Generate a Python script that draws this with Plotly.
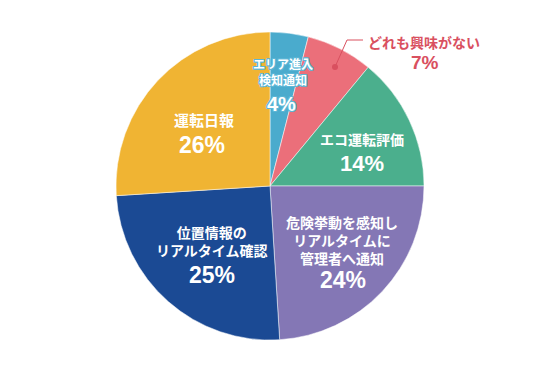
import plotly.graph_objects as go

labels = ["エリア進入<br>検知通知", "どれも興味がない", "エコ運転評価",
          "危険挙動を感知し<br>リアルタイムに<br>管理者へ通知",
          "位置情報の<br>リアルタイム確認", "運転日報"]
values = [4, 7, 14, 24, 25, 26]
colors = ["#4AABCD", "#EB6F7A", "#4BAF8D", "#8477B5", "#1B4A94", "#F0B433"]

W, H = 540, 375
OFF = 8  # page body margin offset
cx, cy, r = 270, 186, 154

def px(x):
    return (x - OFF) / W

def py(y):
    return 1 - (y - OFF) / H

fig = go.Figure(go.Pie(
    labels=labels, values=values, sort=False, direction="clockwise", rotation=0,
    marker=dict(colors=colors, line=dict(color="#FFFFFF", width=0.5)),
    textinfo="none", hoverinfo="label+percent", showlegend=False,
    domain=dict(x=[px(cx - r), px(cx + r)], y=[py(cy + r), py(cy - r)]),
))

FONT = "Noto Sans CJK JP, Noto Sans, sans-serif"
label_pos = [(283, 72), (424, 42), (362, 139), (342, 240), (212, 241), (204, 120)]
pct_pos = [(281, 104), (425, 62), (362, 163), (343, 280), (212, 275), (202, 145)]
label_size = [12, 14, 14, 14, 14, 15]
pct_size = [20, 19, 22, 23, 23, 23]

ann = []
for i, (lab, v) in enumerate(zip(labels, values)):
    col = "#D9505F" if i == 1 else "#FFFFFF"
    shadow = "none"
    if i == 0:
        s = "#5CB6D6"
        shadow = f"1px 1px 0 {s}, -1px -1px 0 {s}, 1px -1px 0 {s}, -1px 1px 0 {s}, 0 1px 0 {s}, 1px 0 0 {s}, 0 -1px 0 {s}, -1px 0 0 {s}"
    lx, ly = label_pos[i]
    ann.append(dict(x=px(lx), y=py(ly), xref="paper", yref="paper", text=lab,
                    showarrow=False, xanchor="center", yanchor="middle",
                    font=dict(family=FONT, size=label_size[i], color=col, weight="bold", shadow=shadow),
                    ))
    qx, qy = pct_pos[i]
    ann.append(dict(x=px(qx), y=py(qy), xref="paper", yref="paper", text=f"{v}%",
                    showarrow=False, xanchor="center", yanchor="middle",
                    font=dict(family="Liberation Sans, Arial, sans-serif", size=pct_size[i], color=col, weight="bold", shadow=shadow)))

lc = "#D9505F"
shapes = [
    dict(type="path", xref="paper", yref="paper",
         path=f"M {px(335)} {py(67)} L {px(347)} {py(40)} L {px(363)} {py(40)}",
         line=dict(color=lc, width=1)),
    dict(type="circle", xref="paper", yref="paper",
         x0=px(332), x1=px(338), y0=py(64), y1=py(70),
         fillcolor=lc, line=dict(color=lc, width=0)),
]

fig.update_layout(width=W, height=H, margin=dict(l=0, r=0, t=0, b=0),
                  paper_bgcolor="white", plot_bgcolor="white",
                  annotations=ann, shapes=shapes)
fig.write_html("out.html")
